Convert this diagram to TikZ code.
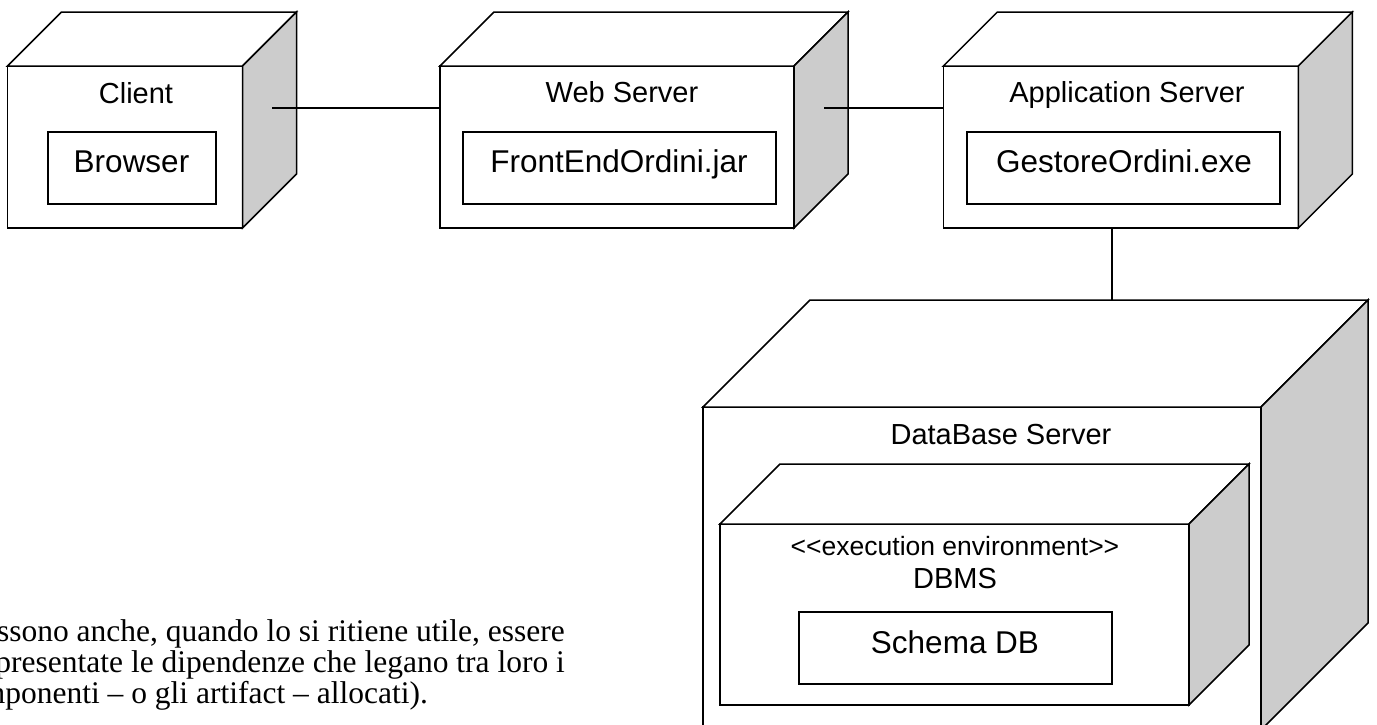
\documentclass[tikz,border=0pt]{standalone}
\usepackage{fontspec}
\setmainfont{Liberation Serif}
\newfontfamily\arialf{Liberation Sans}
\usetikzlibrary{calc}
\definecolor{sidegray}{RGB}{204,204,204}
\tikzset{
  edge/.style={line width=1.5pt, line join=miter},
  front/.style={draw, line width=1.5pt, fill=white, inner sep=0pt, outer sep=0pt},
  artifact/.style={draw, line width=1.5pt, fill=white, inner sep=0pt, outer sep=0pt, minimum width=313pt, minimum height=72pt},
  lbl/.style={anchor=base, inner sep=0pt, font=\arialf\fontsize{29}{34}\selectfont},
  artlbl/.style={anchor=base, inner sep=0pt, font=\arialf\fontsize{31.5}{36}\selectfont},
  stereo/.style={anchor=base, inner sep=0pt, font=\arialf\fontsize{26.5}{30}\selectfont},
  para/.style={anchor=base east, inner sep=0pt, font=\fontsize{31.5}{36}\selectfont},
  conn/.style={line width=1.5pt},
}
\newcommand\cubefaces[2]{%
  \draw[edge, fill=white] (#1.north west) -- ($(#1.north west)+(#2,-#2)$) -- ($(#1.north east)+(#2,-#2)$) -- (#1.north east) -- cycle;
  \draw[edge, fill=sidegray] (#1.north east) -- ($(#1.north east)+(#2,-#2)$) -- ($(#1.south east)+(#2,-#2)$) -- (#1.south east) -- cycle;
}
\begin{document}
\begin{tikzpicture}[x=1pt, y=-1pt]
\useasboundingbox (0,0) rectangle (1377,724);
\begin{scope}
\clip (0,0) rectangle (1377,724);

% Client
\node[front, minimum width=235pt, minimum height=162pt] (client) at (125,147) {};
\cubefaces{client}{54}
\node[artifact, minimum width=168pt] (browser) at (132,168) {};
\node[lbl] (clientlbl) at (136,103) {Client};
\node[artlbl] (browserlbl) at (131.5,172) {Browser};

% Web Server
\node[front, minimum width=354pt, minimum height=162pt] (web) at (617,147) {};
\cubefaces{web}{54}
\node[artifact] (frontend) at (619.5,168) {};
\node[lbl] (weblbl) at (622,102) {Web Server};
\node[artlbl] (frontendlbl) at (619,172) {FrontEndOrdini.jar};

% Application Server
\node[front, minimum width=355pt, minimum height=162pt] (app) at (1120.8,147) {};
\cubefaces{app}{54}
\node[artifact] (gestore) at (1123.7,168) {};
\node[lbl] (applbl) at (1127,102) {Application Server};
\node[artlbl] (gestorelbl) at (1124,172) {GestoreOrdini.exe};

% DataBase Server
\node[front, minimum width=558pt, minimum height=323pt] (db) at (982,568.5) {};
\cubefaces{db}{107}
\node[lbl] (dblbl) at (1001,444) {DataBase Server};

% Execution environment
\node[front, minimum width=469pt, minimum height=181pt] (dbms) at (954.5,614.5) {};
\cubefaces{dbms}{60}
\node[stereo] (stereolbl) at (955,555) {\textless\textless execution environment\textgreater\textgreater};
\node[lbl] (dbmslbl) at (955,588) {DBMS};
\node[artifact] (schema) at (955.5,648) {};
\node[artlbl] (schemalbl) at (955,653) {Schema DB};

% Connectors
\coordinate (c1) at (272,108);
\coordinate (c2) at (824,108);
\coordinate (c3) at (1112,300);
\draw[conn] (c1) -- (c1 -| web.west);
\draw[conn] (c2) -- (c2 -| app.west);
\draw[conn] (c3 |- app.south) -- (c3);

% Paragraph fragment
\node[para] (p1) at (565,641) {ssono anche, quando lo si ritiene utile, essere};
\node[para] (p2) at (565,672) {presentate le dipendenze che legano tra loro i};
\node[para] (p3) at (428,703) {mponenti – o gli artifact – allocati).};
\end{scope}
\end{tikzpicture}
\end{document}
